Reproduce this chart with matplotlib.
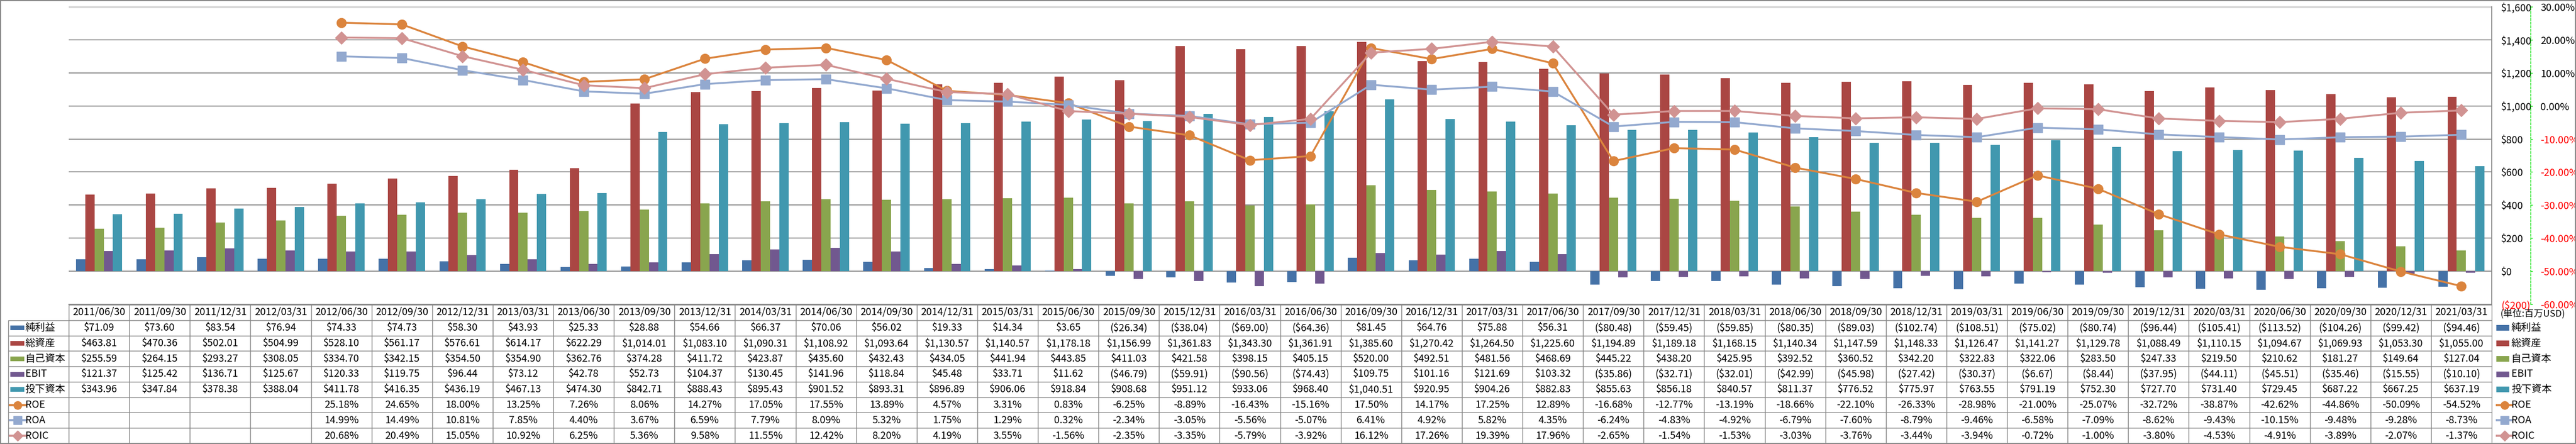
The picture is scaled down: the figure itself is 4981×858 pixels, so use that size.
import numpy as np
import matplotlib
matplotlib.use('Agg')
import matplotlib.pyplot as plt
from matplotlib.patches import Rectangle
from matplotlib.lines import Line2D

plt.rcParams['font.family'] = ['Noto Sans CJK JP', 'DejaVu Sans']

# ---------------- data ----------------
dates = ['2011/06/30', '2011/09/30', '2011/12/31', '2012/03/31', '2012/06/30', '2012/09/30',
         '2012/12/31', '2013/03/31', '2013/06/30', '2013/09/30', '2013/12/31', '2014/03/31',
         '2014/06/30', '2014/09/30', '2014/12/31', '2015/03/31', '2015/06/30', '2015/09/30',
         '2015/12/31', '2016/03/31', '2016/06/30', '2016/09/30', '2016/12/31', '2017/03/31',
         '2017/06/30', '2017/09/30', '2017/12/31', '2018/03/31', '2018/06/30', '2018/09/30',
         '2018/12/31', '2019/03/31', '2019/06/30', '2019/09/30', '2019/12/31', '2020/03/31',
         '2020/06/30', '2020/09/30', '2020/12/31', '2021/03/31']

net_income = [71.09, 73.60, 83.54, 76.94, 74.33, 74.73, 58.30, 43.93, 25.33, 28.88,
              54.66, 66.37, 70.06, 56.02, 19.33, 14.34, 3.65, -26.34, -38.04, -69.00,
              -64.36, 81.45, 64.76, 75.88, 56.31, -80.48, -59.45, -59.85, -80.35, -89.03,
              -102.74, -108.51, -75.02, -80.74, -96.44, -105.41, -113.52, -104.26, -99.42, -94.46]

total_assets = [463.81, 470.36, 502.01, 504.99, 528.10, 561.17, 576.61, 614.17, 622.29, 1014.01,
                1083.10, 1090.31, 1108.92, 1093.64, 1130.57, 1140.57, 1178.18, 1156.99, 1361.83, 1343.30,
                1361.91, 1385.60, 1270.42, 1264.50, 1225.60, 1194.89, 1189.18, 1168.15, 1140.34, 1147.59,
                1148.33, 1126.47, 1141.27, 1129.78, 1088.49, 1110.15, 1094.67, 1069.93, 1053.30, 1055.00]

equity = [255.59, 264.15, 293.27, 308.05, 334.70, 342.15, 354.50, 354.90, 362.76, 374.28,
          411.72, 423.87, 435.60, 432.43, 434.05, 441.94, 443.85, 411.03, 421.58, 398.15,
          405.15, 520.00, 492.51, 481.56, 468.69, 445.22, 438.20, 425.95, 392.52, 360.52,
          342.20, 322.83, 322.06, 283.50, 247.33, 219.50, 210.62, 181.27, 149.64, 127.04]

ebit = [121.37, 125.42, 136.71, 125.67, 120.33, 119.75, 96.44, 73.12, 42.78, 52.73,
        104.37, 130.45, 141.96, 118.84, 45.48, 33.71, 11.62, -46.79, -59.91, -90.56,
        -74.43, 109.75, 101.16, 121.69, 103.32, -35.86, -32.71, -32.01, -42.99, -45.98,
        -27.42, -30.37, -6.67, -8.44, -37.95, -44.11, -45.51, -35.46, -15.55, -10.10]

invested_capital = [343.96, 347.84, 378.38, 388.04, 411.78, 416.35, 436.19, 467.13, 474.30, 842.71,
                    888.43, 895.43, 901.52, 893.31, 896.89, 906.06, 918.84, 908.68, 951.12, 933.06,
                    968.40, 1040.51, 920.95, 904.26, 882.83, 855.63, 856.18, 840.57, 811.37, 776.52,
                    775.97, 763.55, 791.19, 752.30, 727.70, 731.40, 729.45, 687.22, 667.25, 637.19]

NA = np.nan
roe = [NA, NA, NA, NA, 25.18, 24.65, 18.00, 13.25, 7.26, 8.06,
       14.27, 17.05, 17.55, 13.89, 4.57, 3.31, 0.83, -6.25, -8.89, -16.43,
       -15.16, 17.50, 14.17, 17.25, 12.89, -16.68, -12.77, -13.19, -18.66, -22.10,
       -26.33, -28.98, -21.00, -25.07, -32.72, -38.87, -42.62, -44.86, -50.09, -54.52]

roa = [NA, NA, NA, NA, 14.99, 14.49, 10.81, 7.85, 4.40, 3.67,
       6.59, 7.79, 8.09, 5.32, 1.75, 1.29, 0.32, -2.34, -3.05, -5.56,
       -5.07, 6.41, 4.92, 5.82, 4.35, -6.24, -4.83, -4.92, -6.79, -7.60,
       -8.79, -9.46, -6.58, -7.09, -8.62, -9.43, -10.15, -9.48, -9.28, -8.73]

roic = [NA, NA, NA, NA, 20.68, 20.49, 15.05, 10.92, 6.25, 5.36,
        9.58, 11.55, 12.42, 8.20, 4.19, 3.55, -1.56, -2.35, -3.35, -5.79,
        -3.92, 16.12, 17.26, 19.39, 17.96, -2.65, -1.54, -1.53, -3.03, -3.76,
        -3.44, -3.94, -0.72, -1.00, -3.80, -4.53, -4.91, -3.89, -2.07, -1.37]

bar_names = ['純利益', '総資産', '自己資本', 'EBIT', '投下資本']
bar_values = [net_income, total_assets, equity, ebit, invested_capital]
bar_colors = ['#4572A7', '#AA4643', '#89A54E', '#71588F', '#4198AF']

line_names = ['ROE', 'ROA', 'ROIC']
line_values = [roe, roa, roic]
line_colors = ['#DB843D', '#93A9CF', '#D19392']
line_markers = ['o', 's', 'D']
line_msizes = [13, 13, 12]

usd_ticks = [-200, 0, 200, 400, 600, 800, 1000, 1200, 1400, 1600]
usd_tick_labels = ['($200)', '$0', '$200', '$400', '$600', '$800', '$1,000', '$1,200', '$1,400', '$1,600']
pct_ticks = [-60, -50, -40, -30, -20, -10, 0, 10, 20, 30]
pct_tick_labels = ['-60.00%', '-50.00%', '-40.00%', '-30.00%', '-20.00%', '-10.00%',
                   '0.00%', '10.00%', '20.00%', '30.00%']
unit_label = '(単位:百万USD)'

# ---------------- layout ----------------
W, H = 4981, 858
DPI = 100
fig = plt.figure(figsize=(W / DPI, H / DPI), dpi=DPI)
fig.patch.set_facecolor('white')

PL, PR, PT, PB = 133, 4818, 13, 588
GRID = '#868686'
FS = 14

ax = fig.add_axes([PL / W, 1 - PB / H, (PR - PL) / W, (PB - PT) / H])
n = len(dates)
x = np.arange(n)
bw = 0.153
for k, (vals, col) in enumerate(zip(bar_values, bar_colors)):
    ax.bar(x + (k - 2) * bw, vals, width=bw, color=col, linewidth=0, zorder=2)

ax.set_xlim(-0.5, n - 0.5)
ax.set_ylim(-200, 1600)
ax.set_xticks([])
ax.grid(axis='y', color=GRID, linewidth=1.3)
ax.set_axisbelow(True)
for s in ['left', 'top']:
    ax.spines[s].set_visible(False)
for s in ['right', 'bottom']:
    ax.spines[s].set_color(GRID)
    ax.spines[s].set_linewidth(1.3)

ax2 = ax.twinx()
# twinx moves the primary ticks to the left; put them back on the right
ax.yaxis.tick_right()
ax.set_yticks(usd_ticks, usd_tick_labels)
ax.tick_params(axis='y', which='both', length=0, pad=13, labelsize=FS,
               left=False, labelleft=False, right=True, labelright=True)
for v, lab in zip(usd_ticks, ax.yaxis.get_ticklabels(which='major')):
    pass
for tick, v in zip(ax.yaxis.get_major_ticks(), usd_ticks):
    tick.label2.set_color('#FF0000' if v < 0 else 'black')

ax2.set_ylim(-60, 30)
for vals, col, mk, ms in zip(line_values, line_colors, line_markers, line_msizes):
    ax2.plot(x, vals, color=col, linewidth=2.6, marker=mk, markersize=ms,
             markerfacecolor=col, markeredgecolor=col, zorder=5)
ax2.set_yticks(pct_ticks, pct_tick_labels)
for s in ['left', 'top', 'bottom']:
    ax2.spines[s].set_visible(False)
ax2.spines['right'].set_position(('axes', (4893 - PL) / (PR - PL)))
ax2.spines['right'].set_color('#00E000')
ax2.spines['right'].set_linestyle((0, (3, 2)))
ax2.spines['right'].set_linewidth(1.0)
ax2.tick_params(axis='y', length=3, width=1, color='#00E000', pad=11, labelsize=FS)
for tick, v in zip(ax2.yaxis.get_major_ticks(), pct_ticks):
    tick.label2.set_color('#FF0000' if v < 0 else 'black')


# ---------------- data table ----------------
def money(v):
    return f'${v:,.2f}' if v >= 0 else f'(${-v:,.2f})'


def pct(v):
    return '' if np.isnan(v) else f'{v:.2f}%'


TL, TR, TT, TB = 16, 4818, 589, 857
tax = fig.add_axes([TL / W, 1 - TB / H, (TR - TL) / W, (TB - TT) / H])
tax.axis('off')
cell_text = []
for name, vals in zip(bar_names, bar_values):
    cell_text.append([name] + [money(v) for v in vals])
for name, vals in zip(line_names, line_values):
    cell_text.append([name] + [pct(v) for v in vals])
tbl = tax.table(cellText=cell_text, colLabels=[''] + dates, cellLoc='center',
                bbox=[0, 0, 1, 1])
tbl.auto_set_font_size(False)
tbl.set_fontsize(FS)
for (r, c), cell in tbl.get_celld().items():
    cell.set_edgecolor(GRID)
    cell.set_linewidth(1.0)
    cell.set_facecolor('white')
    if r == 0 and c == 0:
        cell.visible_edges = ''
    if c == 0 and r > 0:
        cell.get_text().set_horizontalalignment('left')
        cell.PAD = 0.28

# ---------------- legend keys & overlay ----------------
lax = fig.add_axes([0, 0, 1, 1], zorder=10)
lax.set_xlim(0, W)
lax.set_ylim(H, 0)
lax.axis('off')

rowh = (TB - TT) / 9.0
for i in range(8):
    yc = TT + (i + 1.5) * rowh
    if i < 5:
        col = bar_colors[i]
        lax.add_patch(Rectangle((20, yc - 4.5), 27, 9, facecolor=col, edgecolor='none'))
        lax.add_patch(Rectangle((4827, yc - 5.5), 25, 11, facecolor=col, edgecolor='none'))
        name = bar_names[i]
    else:
        j = i - 5
        col = line_colors[j]
        for x0, x1 in [(19, 49), (4828, 4857)]:
            lax.add_line(Line2D([x0, x1], [yc, yc], color=col, linewidth=3))
            lax.add_line(Line2D([(x0 + x1) / 2], [yc], color=col, marker=line_markers[j],
                                markersize=line_msizes[j] - 2, markerfacecolor=col,
                                markeredgecolor=col))
        name = line_names[j]
    lax.text(4856, yc, name, fontsize=FS, ha='left', va='center')

lax.text(4834, 606, unit_label, fontsize=13, ha='left', va='center')
lax.add_patch(Rectangle((1, 1), W - 2, H - 2, facecolor='none', edgecolor=GRID, linewidth=1.5))

fig.savefig('out.png', dpi=DPI)
